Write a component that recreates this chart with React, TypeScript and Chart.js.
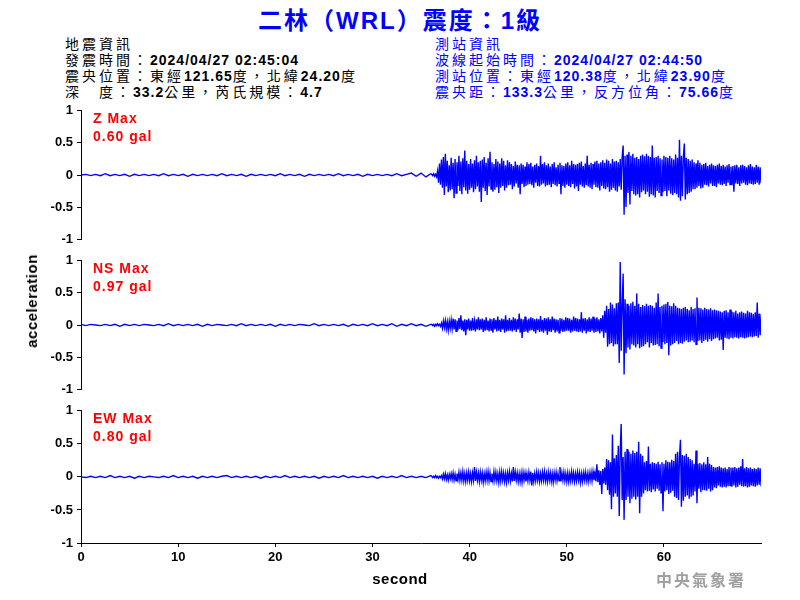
import React, { useEffect, useRef } from "react";
import { Chart, registerables } from "chart.js";

Chart.register(...registerables);

// ---------- data ----------
const xTicks = [0, 10, 20, 30, 40, 50, 60];
const yTicks = [-1, -0.5, 0, 0.5, 1];
const xMax = 69.99;
const preStep = 0.5; // quiet part: 0 .. 36 s
const waveStart = 36.1; // active part: 36.1 .. 70.0 s
const waveStep = 0.1;

const titleText = "二林（WRL）震度：1級";
const quakeInfo = [
  "地震資訊",
  "發震時間：2024/04/27 02:45:04",
  "震央位置：東經121.65度，北緯24.20度",
  "深　度：33.2公里，芮氏規模：4.7",
];
const stationInfo = [
  "測站資訊",
  "波線起始時間：2024/04/27 02:44:50",
  "測站位置：東經120.38度，北緯23.90度",
  "震央距：133.3公里，反方位角：75.66度",
];
const componentNames = ["Z Max", "NS Max", "EW Max"];
const maxValues = ["0.60 gal", "0.97 gal", "0.80 gal"];

const zPre = [
  0, .01, -.01, .01, -.01, .02, -.01, .01, -.01, .01,
  -.02, .01, -.01, .01, -.01, .01, -.01, .02, -.01, .01,
  -.01, .01, -.02, .01, -.01, .01, -.01, .01, -.01, .02,
  -.01, .01, -.01, .01, -.02, .01, -.01, .01, -.01, .01,
  -.01, .02, -.01, .01, -.01, .01, -.02, .01, -.01, .01,
  -.01, .01, -.01, .02, -.01, .01, -.01, .01, -.02, .01,
  -.01, .01, -.01, .01, -.01, .02, -.01, .01, .03, -.02,
  .03, -.03, .02,
];
const zWave = [
  .01, -.01, .02, -.02, .01, -.03, .06, -.12, .18, -.15, // 36
  .24, -.2, .28, -.31, .33, -.18, .22, -.27, .15, -.24, // 37
  .27, -.22, .19, -.36, .25, -.28, .2, -.17, .3, -.25, // 38
  .21, -.3, .26, -.19, .38, -.24, .22, -.29, .17, -.23, // 39
  .25, -.2, .18, -.27, .23, -.22, .3, -.18, .2, -.26, // 40
  .22, -.42, .24, -.2, .28, -.25, .19, -.31, .26, -.18, // 41
  .36, -.22, .2, -.26, .17, -.23, .25, -.19, .21, -.28, // 42
  .18, -.2, .26, -.17, .22, -.24, .15, -.2, .23, -.16, // 43
  .2, -.15, .17, -.22, .14, -.18, .21, -.13, .16, -.2, // 44
  .15, -.3, .18, -.14, .16, -.19, .13, -.17, .2, -.15, // 45
  .17, -.14, .19, -.16, .13, -.2, .16, -.12, .18, -.17, // 46
  .14, -.18, .3, -.15, .17, -.13, .2, -.18, .15, -.16, // 47
  .18, -.15, .13, -.19, .17, -.14, .2, -.16, .12, -.18, // 48
  .16, -.13, .19, -.3, .15, -.17, .14, -.2, .18, -.15, // 49
  .2, -.17, .15, -.19, .22, -.14, .17, -.21, .16, -.18, // 50
  .17, -.25, .19, -.15, .21, -.18, .14, -.2, .18, -.16, // 51
  .3, -.18, .16, -.2, .19, -.22, .17, -.15, .21, -.19, // 52
  .22, -.2, .18, -.24, .2, -.17, .23, -.21, .19, -.22, // 53
  .24, -.19, .22, -.26, .18, -.23, .25, -.2, .21, -.24, // 54
  .22, -.26, .2, -.18, .25, -.23, .28, .46, -.62, .3, // 55
  -.5, .32, -.28, .36, -.46, .3, -.25, .33, -.3, .27, // 56
  -.32, .28, -.3, .25, -.35, .3, -.27, .32, -.24, .29, // 57
  -.3, .33, -.26, .3, -.34, .28, -.3, .46, -.32, .27, // 58
  -.35, .28, -.25, .3, -.28, .26, -.32, .24, -.27, .3, // 59
  -.25, .28, -.33, .27, -.24, .3, -.29, .26, -.31, .24, // 60
  -.28, .32, -.3, .27, -.35, .55, -.4, .3, -.33, .28, // 61
  .49, -.38, .27, -.3, .25, -.28, .22, -.26, .24, -.22, // 62
  .2, -.22, .18, -.2, .23, -.17, .19, -.21, .16, -.2, // 63
  .17, -.15, .19, -.16, .14, -.18, .16, -.13, .18, -.17, // 64
  .15, -.17, .14, -.19, .16, -.13, .18, -.15, .14, -.16, // 65
  .16, -.14, .13, -.17, .15, -.12, .17, -.15, .13, -.16, // 66
  .14, -.26, .15, -.13, .16, -.14, .12, -.17, .15, -.13, // 67
  .16, -.12, .14, -.15, .12, -.16, .15, -.13, .17, -.14, // 68
  .13, -.15, .12, -.14, .16, -.12, .13, -.15, .12, -.13, // 69
];

const nsPre = [
  .01, -.01, .01, 0, -.01, .01, -.01, .01, -.02, .01,
  -.01, .01, -.01, .01, 0, -.01, .01, -.01, .02, -.01,
  .01, -.01, .01, -.01, .01, -.02, .01, -.01, .01, 0,
  -.01, .01, -.01, .02, -.01, .01, -.01, .01, -.01, .01,
  -.02, .01, -.01, .01, -.01, .01, 0, -.01, .02, -.01,
  .01, -.01, .01, -.01, .01, -.02, .01, -.01, .01, -.01,
  .02, -.01, .01, -.01, .02, -.02, .01, -.01, .02, -.01,
  .01, -.02, .01,
];
const nsWave = [
  .01, -.01, .01, -.02, .01, -.01, .02, -.01, .01, -.02, // 36
  .03, -.05, .06, -.04, .07, -.06, .05, -.08, .06, -.05, // 37
  .08, -.06, .1, -.07, .09, -.1, .07, -.08, .11, -.06, // 38
  .15, -.08, .07, -.1, .09, -.16, .08, -.07, .1, -.09, // 39
  .07, -.09, .11, -.08, .06, -.1, .09, -.07, .12, -.08, // 40
  .09, -.07, .1, -.11, .08, -.09, .12, -.08, .07, -.1, // 41
  .1, -.08, .09, -.12, .11, -.07, .08, -.1, .13, -.09, // 42
  .08, -.11, .1, -.07, .09, -.12, .15, -.1, .08, -.09, // 43
  .11, -.09, .08, -.1, .12, -.08, .1, -.11, .09, -.07, // 44
  .18, -.12, .1, -.2, .09, -.11, .13, -.1, .08, -.12, // 45
  .1, -.09, .12, -.08, .11, -.1, .09, -.13, .1, -.08, // 46
  .09, -.11, .14, -.1, .08, -.12, .11, -.09, .1, -.15, // 47
  .12, -.1, .09, -.11, .13, -.08, .1, -.12, .09, -.1, // 48
  .08, -.12, .11, -.09, .1, -.11, .08, -.1, .12, -.09, // 49
  .11, -.09, .1, -.12, .08, -.1, .13, -.09, .11, -.1, // 50
  .1, -.11, .09, -.1, .2, -.12, .1, -.09, .11, -.13, // 51
  .09, -.1, .12, -.11, .1, -.09, .13, -.12, .1, -.11, // 52
  .12, -.1, .09, -.13, .11, -.1, .15, -.2, .22, -.12, // 53
  .3, -.34, .25, -.3, .35, -.28, .32, -.33, .26, -.3, // 54
  .34, -.3, .35, -.59, .98, -.4, .3, .8, -.77, .4, // 55
  -.44, .33, -.35, .3, -.38, .34, -.3, .36, -.32, .3, // 56
  -.35, .49, -.3, .33, -.36, .28, -.34, .31, -.33, .29, // 57
  -.3, .33, -.27, .3, -.35, .31, -.28, .3, -.32, .27, // 58
  -.31, .35, -.3, .49, -.33, .28, -.36, .3, -.27, .32, // 59
  -.3, .33, -.28, .36, -.47, .3, -.32, .29, -.3, .34, // 60
  -.28, .3, -.25, .27, -.3, .26, -.28, .25, -.29, .27, // 61
  -.26, .28, -.24, .25, -.27, .23, -.26, .28, -.24, .25, // 62
  -.27, .26, -.3, .43, -.25, .27, -.24, .26, -.28, .24, // 63
  -.25, .27, -.23, .25, -.26, .24, -.22, .26, -.25, .23, // 64
  -.22, .24, -.21, .23, -.2, .22, -.24, .21, -.23, .2, // 65
  -.39, .22, -.2, .23, -.21, .2, -.22, .24, -.2, .21, // 66
  -.21, .2, -.19, .22, -.2, .18, -.21, .2, -.19, .21, // 67
  -.2, .19, -.21, .18, -.2, .22, -.19, .2, -.18, .19, // 68
  -.19, .17, -.18, .2, -.17, .35, -.2, .18, -.16, .17, // 69
];

const ewPre = [
  0, -.01, .01, -.01, .01, -.01, .02, -.01, .01, -.01,
  .01, -.02, .01, -.01, .01, 0, -.01, .01, -.01, .02,
  -.01, .01, -.01, .01, -.02, .01, -.01, .01, -.01, .01,
  .02, -.01, .01, -.01, .01, -.01, .01, -.02, .01, -.01,
  .01, -.01, .02, -.01, .01, -.01, .01, -.01, .01, -.02,
  .01, -.01, .01, -.01, .02, -.01, .01, -.01, .01, -.01,
  .01, -.02, .01, -.01, .01, -.01, .02, -.01, .01, -.01,
  .01, -.01, .02,
];
const ewWave = [
  .01, -.01, .01, -.01, .02, -.01, .01, -.02, .01, -.01, // 36
  .02, -.03, .04, -.03, .05, -.04, .03, -.05, .04, -.03, // 37
  .05, -.04, .06, -.05, .04, -.06, .05, -.04, .07, -.05, // 38
  .06, -.05, .08, -.06, .05, -.07, .06, -.05, .07, -.06, // 39
  .05, -.07, .06, -.05, .15, -.06, .07, -.05, .06, -.07, // 40
  .07, -.05, .06, -.08, .05, -.06, .07, -.05, .08, -.06, // 41
  .06, -.07, .05, -.06, .08, -.05, .07, -.06, .05, -.08, // 42
  .07, -.06, .08, -.05, .06, -.07, .05, -.08, .06, -.05, // 43
  .08, -.06, .05, -.07, .15, -.06, .07, -.05, .06, -.07, // 44
  .05, -.07, .06, -.08, .07, -.05, .06, -.07, .05, -.06, // 45
  .07, -.05, .08, -.13, .06, -.07, .05, -.06, .07, -.05, // 46
  .06, -.07, .05, -.06, .07, -.05, .08, -.06, .05, -.07, // 47
  .07, -.05, .06, -.07, .05, -.08, .06, -.05, .07, -.06, // 48
  .05, -.06, .15, -.07, .06, -.05, .07, -.06, .05, -.07, // 49
  .06, -.07, .05, -.06, .08, -.05, .06, -.07, .05, -.06, // 50
  .07, -.05, .06, -.08, .05, -.07, .06, -.05, .07, -.06, // 51
  .05, -.07, .06, -.05, .07, -.06, .08, -.05, .06, -.07, // 52
  .19, -.08, .1, -.12, .09, -.26, .12, -.1, .14, -.12, // 53
  .27, -.2, .25, -.27, .22, -.49, .64, -.3, .28, -.25, // 54
  .33, -.3, .47, -.59, .4, .8, -.35, .3, -.65, .38, // 55
  -.35, .42, -.3, .38, -.4, .35, -.33, .4, -.3, .36, // 56
  -.34, .38, -.3, .53, -.55, .35, -.3, .32, -.25, .22, // 57
  -.2, .24, -.22, .46, -.21, .2, -.23, .22, -.19, .21, // 58
  -.22, .2, -.18, .23, -.21, .19, -.24, .22, -.52, .2, // 59
  -.22, .25, -.2, .23, -.26, .22, -.24, .26, -.21, .24, // 60
  -.3, .35, -.32, .38, -.35, .3, .56, -.45, .33, -.36, // 61
  .32, -.3, .35, -.28, .3, -.33, .27, -.3, .25, -.28, // 62
  .2, -.22, .4, -.4, .2, -.18, .21, -.23, .19, -.2, // 63
  .22, -.2, .19, -.21, .3, -.18, .2, -.22, .18, -.2, // 64
  .15, -.16, .14, -.17, .15, -.13, .16, -.15, .14, -.16, // 65
  .13, -.15, .14, -.16, .12, -.14, .15, -.13, .14, -.15, // 66
  .14, -.13, .15, -.16, .13, -.15, .14, -.12, .16, -.14, // 67
  .27, -.15, .13, -.14, .15, -.16, .13, -.15, .14, -.13, // 68
  .12, -.14, .13, -.15, .12, -.13, .14, -.12, .13, -.14, // 69
];

const traces = [
  { pre: zPre, wave: zWave },
  { pre: nsPre, wave: nsWave },
  { pre: ewPre, wave: ewWave },
];

// ---------- styling ----------
const LATIN = '"Liberation Sans", Arial, sans-serif';
const CJK = '"Noto Sans CJK TC", sans-serif';
const BLUE = "#0000ff";

const PANEL_TOPS = [107, 257, 407];
const PANEL_H = 136;
const PAD = 8;
const XAXIS_H = 40;

function Rich({
  text,
  cjkWeight = 400,
  cjkSpacing = 3,
  latinSpacing = 1,
}: {
  text: string;
  cjkWeight?: number;
  cjkSpacing?: number;
  latinSpacing?: number;
}) {
  const parts = text.split(/([\x20-\x7e]+)/).filter((p) => p.length > 0);
  return (
    <>
      {parts.map((p, i) =>
        /^[\x20-\x7e]+$/.test(p) ? (
          <span key={i} style={{ fontFamily: LATIN, fontWeight: 700, letterSpacing: latinSpacing }}>{p}</span>
        ) : (
          <span key={i} style={{ fontFamily: CJK, fontWeight: cjkWeight, letterSpacing: cjkSpacing }}>{p}</span>
        )
      )}
    </>
  );
}

function Panel({ index }: { index: number }) {
  const ref = useRef<HTMLCanvasElement>(null);
  const showX = index === 2;
  const height = PAD + PANEL_H + (showX ? XAXIS_H : PAD);
  useEffect(() => {
    const { pre, wave } = traces[index];
    const data = [
      ...pre.map((v, i) => ({ x: i * preStep, y: v })),
      ...wave.map((v, i) => ({ x: Math.round((waveStart + i * waveStep) * 100) / 100, y: v })),
    ];
    const tickFont = { family: LATIN, size: 13, weight: "bold" as const };
    const xScale: any = {
      type: "linear",
      min: 0,
      max: xMax,
      display: showX,
      afterBuildTicks: (s: any) => {
        s.ticks = xTicks.map((v) => ({ value: v }));
      },
      grid: { drawOnChartArea: false, drawTicks: true, tickLength: 4, color: "#000" },
      border: { display: true, color: "#000", width: 1 },
      ticks: { color: "#000", font: tickFont, padding: 3, maxRotation: 0, autoSkip: false, callback: (v: any) => String(v) },
    };
    if (showX) {
      xScale.afterFit = (s: any) => {
        s.height = XAXIS_H;
      };
    }
    const chart = new Chart(ref.current as HTMLCanvasElement, {
      type: "line",
      data: {
        datasets: [
          {
            data,
            borderColor: BLUE,
            borderWidth: 1.4,
            pointRadius: 0,
            tension: 0,
            fill: false,
          },
        ],
      },
      options: {
        animation: false,
        responsive: false,
        devicePixelRatio: 1,
        events: [],
        layout: { padding: { left: 0, right: 39, top: PAD, bottom: showX ? 0 : PAD } },
        plugins: { legend: { display: false }, tooltip: { enabled: false }, title: { display: false } },
        scales: {
          x: xScale,
          y: {
            type: "linear",
            min: -1,
            max: 1,
            afterBuildTicks: (s: any) => {
              s.ticks = yTicks.map((v) => ({ value: v }));
            },
            afterFit: (s: any) => {
              s.width = 81;
            },
            grid: { drawOnChartArea: false, drawTicks: true, tickLength: 4, color: "#000" },
            border: { display: true, color: "#000", width: 1 },
            ticks: { color: "#000", font: tickFont, padding: 4, autoSkip: false, callback: (v: any) => String(v) },
          },
        },
      },
    } as any);
    return () => chart.destroy();
  }, [index]);
  return (
    <canvas
      ref={ref}
      width={800}
      height={height}
      style={{ position: "absolute", left: 0, top: PANEL_TOPS[index] - PAD, width: 800, height }}
    />
  );
}

export default function App() {
  return (
    <div style={{ position: "fixed", left: 0, top: 0, width: 800, height: 600, background: "#fff", overflow: "hidden" }}>
      <div
        style={{
          position: "absolute",
          left: 0,
          top: 3,
          width: 800,
          textAlign: "center",
          fontSize: 24,
          lineHeight: "32px",
          color: BLUE,
          whiteSpace: "pre",
        }}
      >
        <Rich text={titleText} cjkWeight={700} cjkSpacing={2} latinSpacing={2} />
      </div>
      {quakeInfo.map((t, i) => (
        <div
          key={"q" + i}
          style={{ position: "absolute", left: 65, top: 35 + i * 16, fontSize: 14, lineHeight: "16px", color: "#000", whiteSpace: "pre" }}
        >
          <Rich text={t} />
        </div>
      ))}
      {stationInfo.map((t, i) => (
        <div
          key={"s" + i}
          style={{ position: "absolute", left: 435, top: 35 + i * 16, fontSize: 14, lineHeight: "16px", color: BLUE, whiteSpace: "pre" }}
        >
          <Rich text={t} />
        </div>
      ))}
      {[0, 1, 2].map((i) => (
        <Panel key={i} index={i} />
      ))}
      {[0, 1, 2].map((i) => (
        <div
          key={"m" + i}
          style={{
            position: "absolute",
            left: 93,
            top: PANEL_TOPS[i] + 2,
            fontFamily: LATIN,
            fontWeight: 700,
            fontSize: 14,
            lineHeight: "18px",
            letterSpacing: 1,
            color: "#ff0000",
            whiteSpace: "pre",
          }}
        >
          <div>{componentNames[i]}</div>
          <div>{maxValues[i]}</div>
        </div>
      ))}
      <div
        style={{
          position: "absolute",
          left: 0,
          top: 570,
          width: 800,
          textAlign: "center",
          fontFamily: LATIN,
          fontWeight: 700,
          fontSize: 15,
          lineHeight: "18px",
          letterSpacing: 0.5,
          color: "#000",
        }}
      >
        second
      </div>
      <div
        style={{
          position: "absolute",
          left: 32,
          top: 301,
          transform: "translate(-50%, -50%) rotate(-90deg)",
          fontFamily: LATIN,
          fontWeight: 700,
          fontSize: 15,
          lineHeight: "18px",
          letterSpacing: 0.5,
          color: "#000",
          whiteSpace: "nowrap",
        }}
      >
        acceleration
      </div>
      <div
        style={{
          position: "absolute",
          left: 656,
          top: 569,
          fontFamily: CJK,
          fontWeight: 700,
          fontSize: 16,
          lineHeight: "20px",
          letterSpacing: 2,
          color: "#a0a0a0",
          whiteSpace: "pre",
        }}
      >
        中央氣象署
      </div>
    </div>
  );
}
